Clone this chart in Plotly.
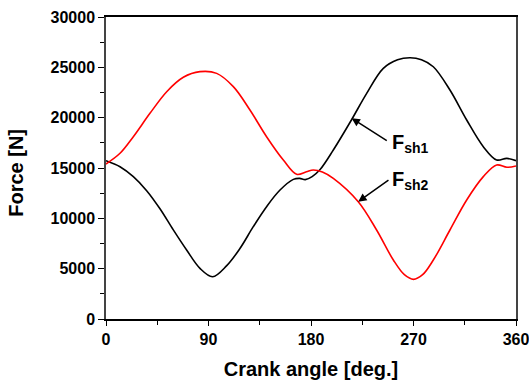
import plotly.graph_objects as go

# Crank angle [deg] and forces [N]
angle_sh1 = [0, 12.3, 24, 35.7, 47.4, 59.1, 70.8, 82.5, 93.6, 106, 117.6, 129.3, 141, 152.8, 164.5,
             170, 175, 181, 188, 199.6, 216, 228.9, 243.5, 256, 267, 277, 287.4, 302, 316.7,
             331.3, 343, 352, 360]
force_sh1 = [15730, 15130, 14140, 12750, 10950, 8850, 6850, 5030, 4200, 5300, 7000, 9170, 11160, 12810, 13870,
             13970, 13850, 14150, 14850, 16790, 19870, 22420, 24900, 25750, 25950, 25750, 25060, 22750, 19770,
             17120, 15800, 15960, 15730]

angle_sh2 = [0, 12.3, 24, 38.6, 53.3, 67.9, 82.5, 97.2, 111.8, 126.4, 141, 155.7, 167.4, 176,
             182, 190, 199.6, 221.5, 237.6, 252.3, 262, 270, 278, 287.4, 302, 316.7, 331.3,
             343, 352, 360]
force_sh2 = [15400, 16460, 18110, 20430, 22580, 24010, 24570, 24400, 23080, 20760, 18110, 15790, 14370, 14630,
             14800, 14600, 13970, 11650, 8840, 5860, 4400, 3940, 4400, 5860, 8840, 11820, 14140,
             15300, 15070, 15200]

x_ticks = [0, 90, 180, 270, 360]
y_ticks = [0, 5000, 10000, 15000, 20000, 25000, 30000]

fig = go.Figure()
fig.add_trace(go.Scatter(x=angle_sh1, y=force_sh1, mode="lines", name="Fsh1",
                         line=dict(color="black", width=1.6, shape="spline", smoothing=1.0)))
fig.add_trace(go.Scatter(x=angle_sh2, y=force_sh2, mode="lines", name="Fsh2",
                         line=dict(color="#ff0000", width=1.6, shape="spline", smoothing=1.0)))

font_fam = "Liberation Sans, Arial, sans-serif"

fig.update_layout(
    width=529, height=383,
    margin=dict(l=106, r=13, t=17, b=64),
    paper_bgcolor="white", plot_bgcolor="white",
    showlegend=False,
    font=dict(family=font_fam, color="black"),
    xaxis=dict(
        range=[0, 360], tickvals=x_ticks, ticktext=[str(v) for v in x_ticks],
        showgrid=False, zeroline=False,
        showline=True, linecolor="black", linewidth=1.5, mirror=True,
        ticks="outside", ticklen=5, tickwidth=1.2, tickcolor="black",
        minor=dict(ticks="outside", ticklen=4, tickwidth=1.2, tickcolor="black", dtick=45, tick0=0),
        tickfont=dict(size=16, family=font_fam, color="black", weight="bold"),
        ticklabeloverflow="allow",
        title=dict(text="<b>Crank angle [deg.]</b>", font=dict(size=20, family=font_fam), standoff=15),
        automargin=False,
    ),
    yaxis=dict(
        range=[0, 30000], tickvals=y_ticks, ticktext=[str(v) for v in y_ticks],
        showgrid=False, zeroline=False,
        showline=True, linecolor="#444444", linewidth=1.5, mirror=True,
        ticks="outside", ticklen=6, tickwidth=1.2, tickcolor="black",
        minor=dict(ticks="outside", ticklen=4, tickwidth=1.2, tickcolor="black", dtick=2500, tick0=0),
        tickfont=dict(size=16, family=font_fam, color="black", weight="bold"),
        ticklabeloverflow="allow",
        automargin=False,
    ),
)

# Y-axis title placed as an annotation
fig.add_annotation(x=-0.218, y=0.483, xref="paper", yref="paper", text="<b>Force [N]</b>",
                   textangle=-90, showarrow=False, xanchor="center", yanchor="middle",
                   font=dict(size=20, family=font_fam, color="black"))

# Arrows
fig.add_annotation(x=215.7, y=19940, ax=36.6, ay=23.4, xref="x", yref="y", text="",
                   showarrow=True, arrowhead=2, arrowsize=1.1, arrowwidth=1.5, arrowcolor="black")
fig.add_annotation(x=221.5, y=11650, ax=31.7, ay=-22.7, xref="x", yref="y", text="",
                   showarrow=True, arrowhead=2, arrowsize=1.1, arrowwidth=1.5, arrowcolor="black")
# Labels
fig.add_annotation(x=249.5, y=17480, xref="x", yref="y", xanchor="left", yanchor="middle",
                   text="<b>F<sub>sh1</sub></b>", showarrow=False,
                   font=dict(size=20, family=font_fam, color="black"))
fig.add_annotation(x=249.5, y=13710, xref="x", yref="y", xanchor="left", yanchor="middle",
                   text="<b>F<sub>sh2</sub></b>", showarrow=False,
                   font=dict(size=20, family=font_fam, color="black"))

fig.write_html("out.html")
